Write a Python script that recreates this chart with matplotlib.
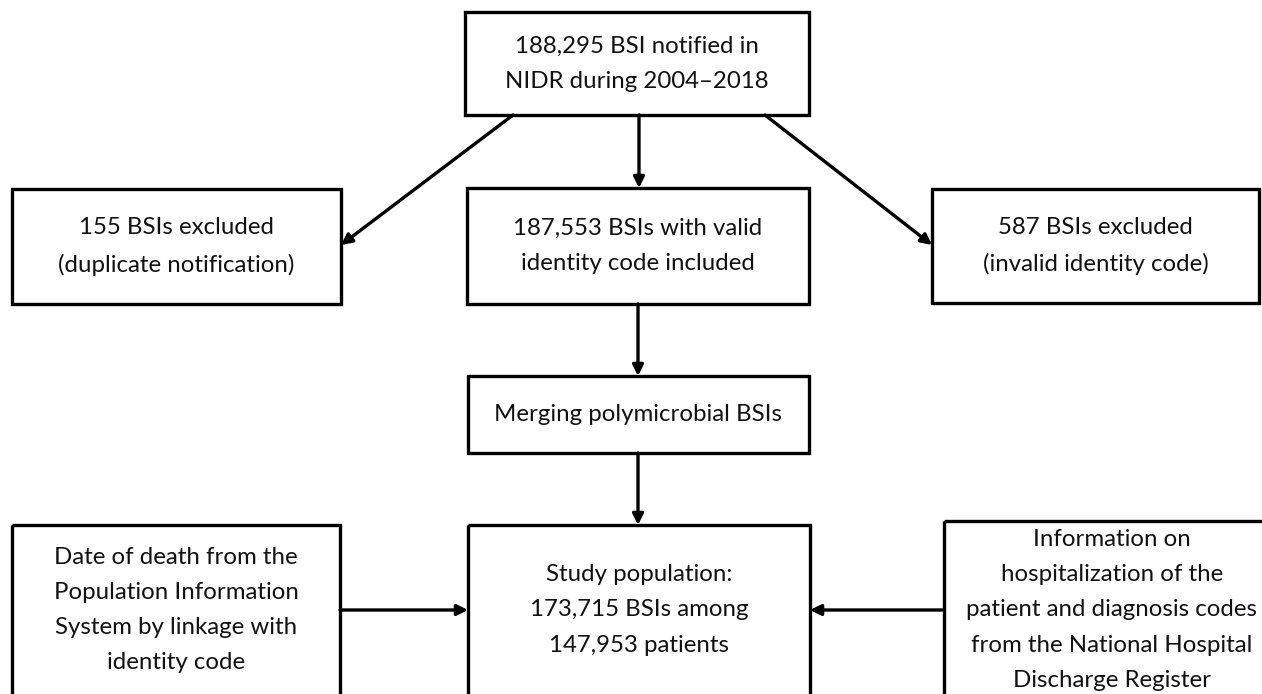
import matplotlib.pyplot as plt
from matplotlib.patches import Rectangle

plt.rcParams['font.family'] = ['Lato', 'DejaVu Sans']

# box texts
top_text = "188,295 BSI notified in\nNIDR during 2004\u20132018"
left_excl_text = "155 BSIs excluded\n(duplicate notification)"
included_text = "187,553 BSIs with valid\nidentity code included"
right_excl_text = "587 BSIs excluded\n(invalid identity code)"
merge_text = "Merging polymicrobial BSIs"
death_text = "Date of death from the\nPopulation Information\nSystem by linkage with\nidentity code"
study_text = "Study population:\n173,715 BSIs among\n147,953 patients"
hosp_text = "Information on\nhospitalization of the\npatient and diagnosis codes\nfrom the National Hospital\nDischarge Register"

W, H = 1262, 694
fig = plt.figure(figsize=(W / 100, H / 100), dpi=100)
ax = fig.add_axes([0, 0, 1, 1])
ax.set_xlim(0, W)
ax.set_ylim(H, 0)
ax.axis('off')

# (x0, y0, x1, y1) in pixel coords
boxes = {
    'top': (465, 12, 809, 115, top_text),
    'left': (12, 189, 341, 304, left_excl_text),
    'mid': (467, 188, 809, 304, included_text),
    'right': (932, 189, 1259, 303, right_excl_text),
    'merge': (468, 376, 809, 453, merge_text),
    'death': (12, 525, 340, 697, death_text),
    'study': (468, 525, 810, 697, study_text),
    'hosp': (944, 521, 1280, 701, hosp_text),
}

for x0, y0, x1, y1, txt in boxes.values():
    ax.add_patch(Rectangle((x0, y0), x1 - x0, y1 - y0, fill=False,
                           edgecolor='black', lw=2.4))
    cy = (y0 + y1) / 2
    if y1 > H:
        cy = 610
    ax.text((x0 + x1) / 2, cy, txt, ha='center', va='center',
            fontsize=17.3, linespacing=1.84, color='#111111')

arrows = [
    ((513, 115), (341, 245)),
    ((639, 115), (639, 188)),
    ((765, 115), (932, 245)),
    ((638, 304), (638, 376)),
    ((638, 453), (638, 525)),
    ((340, 610), (468, 610)),
    ((944, 610), (810, 610)),
]
for start, end in arrows:
    ax.annotate('', xy=end, xytext=start,
                arrowprops=dict(arrowstyle='-|>', lw=2.4, color='black',
                                mutation_scale=16, shrinkA=0, shrinkB=0))

fig.savefig('out.png', dpi=100, facecolor='white')
